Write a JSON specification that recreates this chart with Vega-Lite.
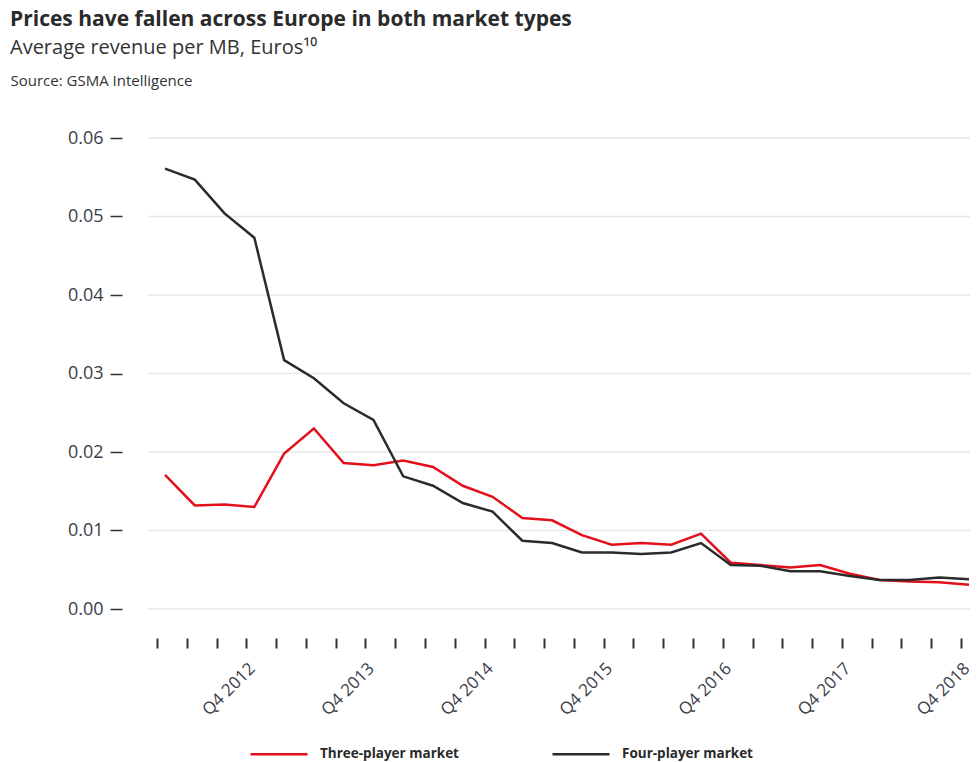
{
  "$schema": "https://vega.github.io/schema/vega-lite/v6.json",
  "autosize": "none",
  "padding": {"left": 148, "top": 138, "right": 9, "bottom": 153},
  "width": 822,
  "height": 471,
  "title": {
    "text": "Prices have fallen across Europe in both market types",
    "subtitle": "Average revenue per MB, Euros¹⁰",
    "anchor": "start",
    "frame": "group",
    "dx": -138,
    "font": "Open Sans",
    "fontSize": 21,
    "fontWeight": "bold",
    "color": "#2a2a2a",
    "subtitleFont": "Open Sans",
    "subtitleFontSize": 20,
    "subtitleColor": "#333333",
    "subtitlePadding": 8,
    "offset": 14,
    "dy": -1
  },
  "config": {
    "view": {"stroke": null},
    "axis": {"labelFont": "Open Sans", "titleFont": "Open Sans"},
    "legend": {"labelFont": "Open Sans"}
  },
  "layer": [
    {
      "data": {
        "values": [
          {"value": 0}, {"value": 0.01}, {"value": 0.02}, {"value": 0.03},
          {"value": 0.04}, {"value": 0.05}, {"value": 0.06}
        ]
      },
      "mark": {"type": "rule", "color": "#e6e6e6", "strokeWidth": 1.5},
      "encoding": {
        "y": {"field": "value", "type": "quantitative"}
      }
    },
    {
      "data": {
        "values": [
          {"quarter": "Q1 2012", "series": "Three-player market", "value": 0.0171},
          {"quarter": "Q2 2012", "series": "Three-player market", "value": 0.0132},
          {"quarter": "Q3 2012", "series": "Three-player market", "value": 0.0133},
          {"quarter": "Q4 2012", "series": "Three-player market", "value": 0.0130},
          {"quarter": "Q1 2013", "series": "Three-player market", "value": 0.0198},
          {"quarter": "Q2 2013", "series": "Three-player market", "value": 0.0230},
          {"quarter": "Q3 2013", "series": "Three-player market", "value": 0.0186},
          {"quarter": "Q4 2013", "series": "Three-player market", "value": 0.0183},
          {"quarter": "Q1 2014", "series": "Three-player market", "value": 0.0189},
          {"quarter": "Q2 2014", "series": "Three-player market", "value": 0.0181},
          {"quarter": "Q3 2014", "series": "Three-player market", "value": 0.0157},
          {"quarter": "Q4 2014", "series": "Three-player market", "value": 0.0143},
          {"quarter": "Q1 2015", "series": "Three-player market", "value": 0.0116},
          {"quarter": "Q2 2015", "series": "Three-player market", "value": 0.0113},
          {"quarter": "Q3 2015", "series": "Three-player market", "value": 0.0094},
          {"quarter": "Q4 2015", "series": "Three-player market", "value": 0.0082},
          {"quarter": "Q1 2016", "series": "Three-player market", "value": 0.0084},
          {"quarter": "Q2 2016", "series": "Three-player market", "value": 0.0082},
          {"quarter": "Q3 2016", "series": "Three-player market", "value": 0.0096},
          {"quarter": "Q4 2016", "series": "Three-player market", "value": 0.0059},
          {"quarter": "Q1 2017", "series": "Three-player market", "value": 0.0056},
          {"quarter": "Q2 2017", "series": "Three-player market", "value": 0.0053},
          {"quarter": "Q3 2017", "series": "Three-player market", "value": 0.0056},
          {"quarter": "Q4 2017", "series": "Three-player market", "value": 0.0045},
          {"quarter": "Q1 2018", "series": "Three-player market", "value": 0.0037},
          {"quarter": "Q2 2018", "series": "Three-player market", "value": 0.0035},
          {"quarter": "Q3 2018", "series": "Three-player market", "value": 0.0034},
          {"quarter": "Q4 2018", "series": "Three-player market", "value": 0.0031},
          {"quarter": "Q1 2012", "series": "Four-player market", "value": 0.0561},
          {"quarter": "Q2 2012", "series": "Four-player market", "value": 0.0547},
          {"quarter": "Q3 2012", "series": "Four-player market", "value": 0.0504},
          {"quarter": "Q4 2012", "series": "Four-player market", "value": 0.0473},
          {"quarter": "Q1 2013", "series": "Four-player market", "value": 0.0317},
          {"quarter": "Q2 2013", "series": "Four-player market", "value": 0.0294},
          {"quarter": "Q3 2013", "series": "Four-player market", "value": 0.0262},
          {"quarter": "Q4 2013", "series": "Four-player market", "value": 0.0241},
          {"quarter": "Q1 2014", "series": "Four-player market", "value": 0.0169},
          {"quarter": "Q2 2014", "series": "Four-player market", "value": 0.0157},
          {"quarter": "Q3 2014", "series": "Four-player market", "value": 0.0135},
          {"quarter": "Q4 2014", "series": "Four-player market", "value": 0.0124},
          {"quarter": "Q1 2015", "series": "Four-player market", "value": 0.0087},
          {"quarter": "Q2 2015", "series": "Four-player market", "value": 0.0084},
          {"quarter": "Q3 2015", "series": "Four-player market", "value": 0.0072},
          {"quarter": "Q4 2015", "series": "Four-player market", "value": 0.0072},
          {"quarter": "Q1 2016", "series": "Four-player market", "value": 0.0070},
          {"quarter": "Q2 2016", "series": "Four-player market", "value": 0.0072},
          {"quarter": "Q3 2016", "series": "Four-player market", "value": 0.0084},
          {"quarter": "Q4 2016", "series": "Four-player market", "value": 0.0056},
          {"quarter": "Q1 2017", "series": "Four-player market", "value": 0.0055},
          {"quarter": "Q2 2017", "series": "Four-player market", "value": 0.0048},
          {"quarter": "Q3 2017", "series": "Four-player market", "value": 0.0048},
          {"quarter": "Q4 2017", "series": "Four-player market", "value": 0.0042},
          {"quarter": "Q1 2018", "series": "Four-player market", "value": 0.0037},
          {"quarter": "Q2 2018", "series": "Four-player market", "value": 0.0037},
          {"quarter": "Q3 2018", "series": "Four-player market", "value": 0.0040},
          {"quarter": "Q4 2018", "series": "Four-player market", "value": 0.0038}
        ]
      },
      "mark": {"type": "line", "strokeWidth": 2.5},
      "encoding": {
        "x": {
          "field": "quarter",
          "type": "ordinal",
          "sort": null,
          "scale": {"type": "point", "range": [17, 821], "padding": 0},
          "axis": {
            "title": null,
            "domain": false,
            "grid": false,
            "offset": 29,
            "tickSize": 10,
            "tickWidth": 2,
            "tickColor": "#333333",
            "tickOffset": -8,
            "labelAngle": -45,
            "labelAlign": "right",
            "labelBaseline": "top",
            "labelPadding": 12,
            "labelFontSize": 17,
            "labelColor": "#3a3d4a",
            "labelOverlap": false,
            "labelExpr": "indexof(datum.value, 'Q4') === 0 ? datum.value : ''"
          }
        },
        "y": {
          "field": "value",
          "type": "quantitative",
          "scale": {"domain": [0, 0.06], "nice": false},
          "axis": {
            "values": [0, 0.01, 0.02, 0.03, 0.04, 0.05, 0.06],
            "format": ".2f",
            "domain": false,
            "grid": false,
            "offset": 26,
            "tickSize": 12,
            "tickWidth": 1.5,
            "tickColor": "#333333",
            "labelPadding": 7,
            "labelFontSize": 18,
            "labelColor": "#3a3d4a",
            "title": "Source: GSMA Intelligence",
            "titleAngle": 0,
            "titleAlign": "left",
            "titleBaseline": "alphabetic",
            "titleX": -112,
            "titleY": -53,
            "titleFontSize": 15,
            "titleFontWeight": "normal",
            "titleColor": "#333333"
          }
        },
        "color": {
          "field": "series",
          "type": "nominal",
          "scale": {
            "domain": ["Three-player market", "Four-player market"],
            "range": ["#e3101c", "#2b2b2b"]
          },
          "legend": {
            "title": null,
            "orient": "none",
            "legendX": 101,
            "legendY": 586,
            "direction": "horizontal",
            "symbolType": "stroke",
            "symbolSize": 3249,
            "symbolStrokeWidth": 2.5,
            "labelFontSize": 13.5,
            "labelFontWeight": "bold",
            "labelColor": "#2a2a2a",
            "labelOffset": 11,
            "columnPadding": 88,
            "padding": 0
          }
        }
      }
    }
  ]
}
